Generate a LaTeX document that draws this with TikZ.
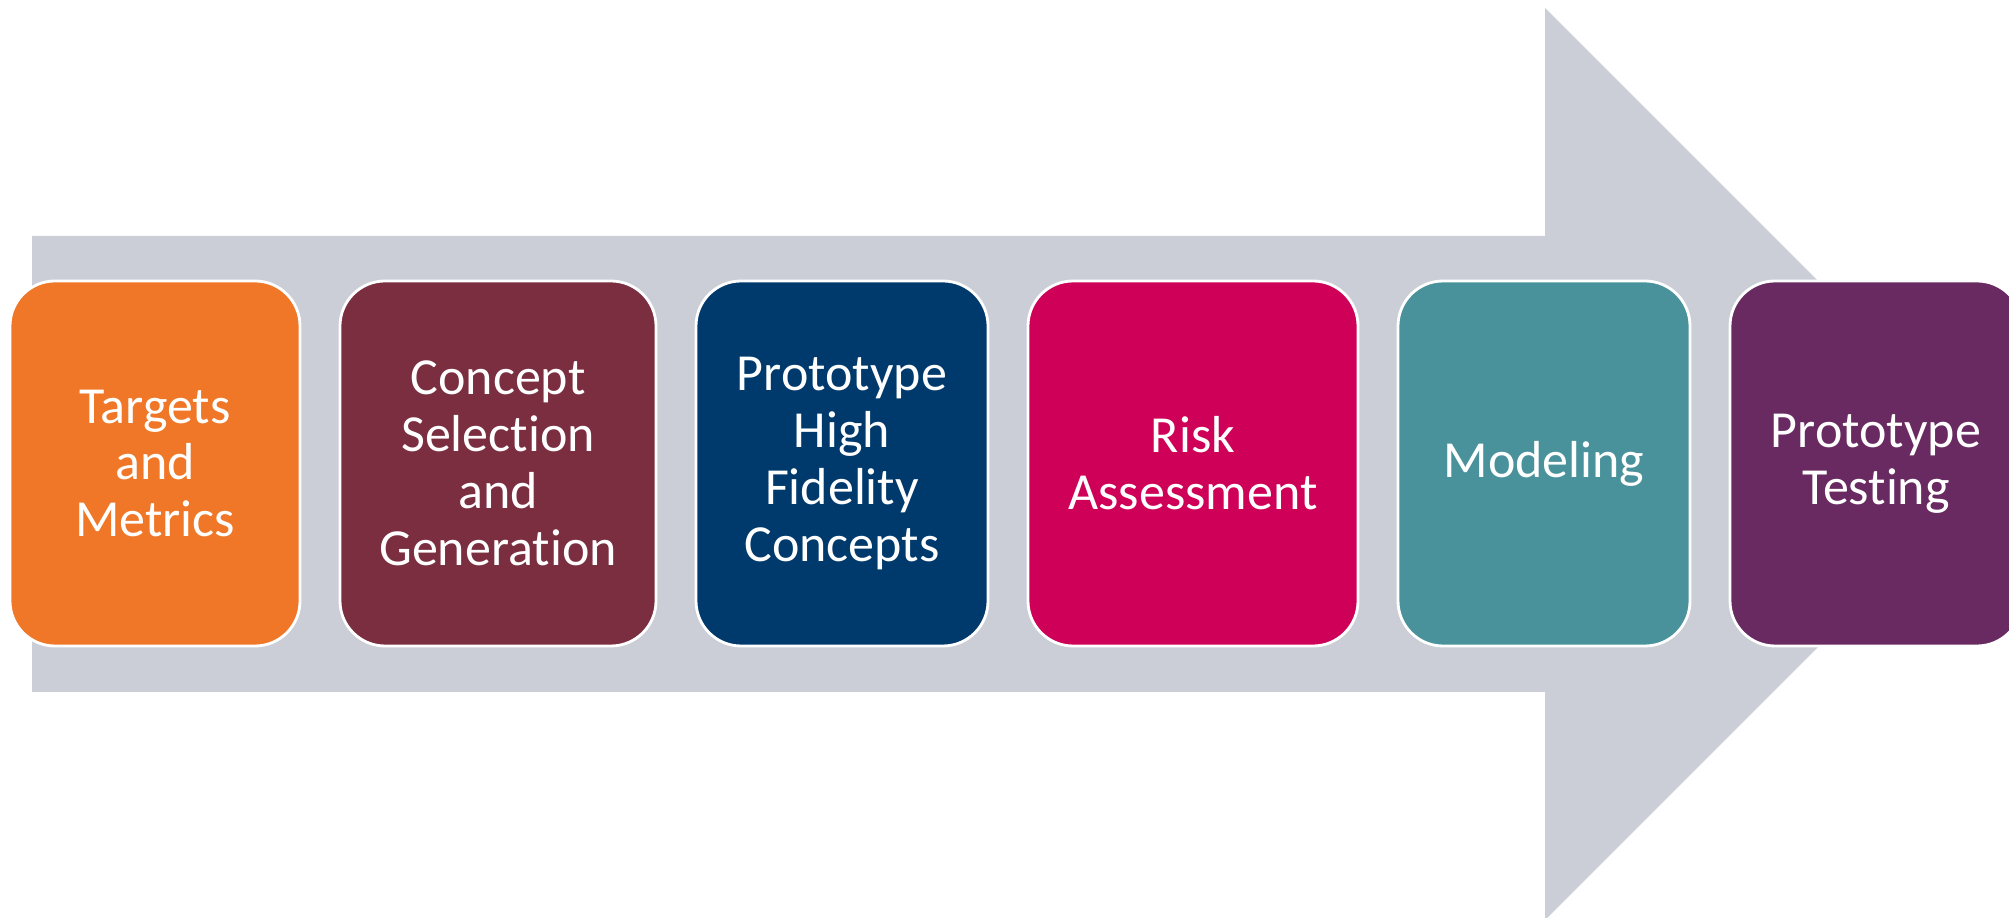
\documentclass[tikz,border=0pt]{standalone}
\usepackage{fontspec}
\setmainfont{Carlito}[Ligatures=NoCommon]
\usetikzlibrary{positioning}

\definecolor{arrowgray}{HTML}{CBCED6}
\definecolor{targetsorange}{HTML}{EF7727}
\definecolor{conceptmaroon}{HTML}{7A2E40}
\definecolor{fidelitynavy}{HTML}{003A6D}
\definecolor{riskcrimson}{HTML}{CE0058}
\definecolor{modelteal}{HTML}{4A929B}
\definecolor{testpurple}{HTML}{682A60}

\begin{document}
\begin{tikzpicture}[node distance=0.4cm,
    stage/.style={draw=white, line width=0.8pt, rounded corners=0.45cm,
        minimum height=3.65cm, inner sep=0pt, outer sep=0pt, align=center, text=white,
        font=\fontsize{14.8}{16.2}\selectfont}]
    \clip (0,0) rectangle (20.09,9.18);

    % big gray arrow behind the stages
    \fill[arrowgray] (0.32,6.82) -- (15.45,6.82) -- (15.45,9.10) -- (20.01,4.54)
        -- (15.45,-0.02) -- (15.45,2.26) -- (0.32,2.26) -- cycle;

    \node[stage, fill=targetsorange, minimum width=2.9cm] (targets) at (1.55,4.545) {Targets\\and\\Metrics};
    \node[stage, fill=conceptmaroon, minimum width=3.16cm, right=of targets] (concept) {Concept\\Selection\\and\\Generation};
    \node[stage, fill=fidelitynavy, minimum width=2.92cm, right=of concept] (fidelity) {Prototype\\High\\Fidelity\\Concepts};
    \node[stage, fill=riskcrimson, minimum width=3.3cm, right=of fidelity] (risk) {Risk\\Assessment};
    \node[stage, fill=modelteal, minimum width=2.92cm, right=of risk] (modeling) {Modeling};
    \node[stage, fill=testpurple, minimum width=2.92cm, right=of modeling] (testing) {Prototype\\Testing};
\end{tikzpicture}
\end{document}
